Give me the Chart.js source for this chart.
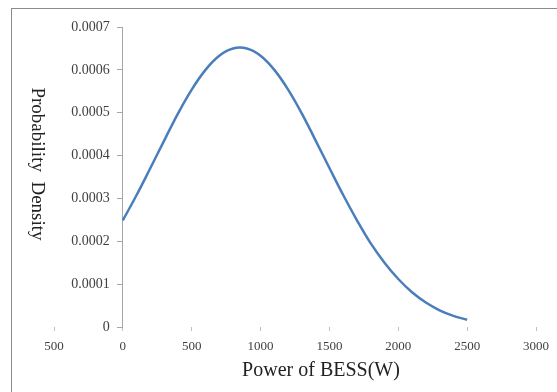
<!DOCTYPE html>
<html>
<head>
<meta charset="utf-8">
<script src="https://cdn.jsdelivr.net/npm/chart.js@4/dist/chart.umd.min.js"></script>
<style>
  html, body { margin: 0; padding: 0; background: #fff; }
  #wrap { position: relative; width: 557px; height: 392px; overflow: hidden; }
  #frame {
    position: absolute; left: 11px; top: 8px; width: 600px; height: 450px;
    border-left: 1px solid #8c8c8c; border-top: 1px solid #8c8c8c;
  }
  canvas { position: absolute; left: 0; top: 0; }
</style>
</head>
<body>
<div id="wrap">
  <div id="frame"></div>
  <canvas id="chart" width="557" height="392"></canvas>
</div>
<script>
// values
const powerW = [0, 100, 200, 300, 400, 500, 600, 700, 800, 900, 1000, 1100, 1200,
  1300, 1400, 1500, 1600, 1700, 1800, 1900, 2000, 2100, 2200, 2300, 2400, 2500];
const density = [0.000249, 0.000308, 0.000371, 0.000435, 0.000498, 0.000554, 0.000600,
  0.000633, 0.000650, 0.000650, 0.000633, 0.000600, 0.000554, 0.000498, 0.000435,
  0.000371, 0.000308, 0.000249, 0.000195, 0.000150, 0.000112, 0.000081, 0.000057,
  0.000039, 0.000026, 0.000017];

const xTicks = [-500, 0, 500, 1000, 1500, 2000, 2500, 3000];
const xTickLabels = ['500', '0', '500', '1000', '1500', '2000', '2500', '3000'];
const yTicks = [0, 0.0001, 0.0002, 0.0003, 0.0004, 0.0005, 0.0006, 0.0007];
const yTickLabels = ['0', '0.0001', '0.0002', '0.0003', '0.0004', '0.0005', '0.0006', '0.0007'];

const xTitle = 'Power of BESS(W)';
const yTitle = 'Probability  Density';

const SERIF = '"Liberation Serif", "Times New Roman", serif';

// y labels sit left of the axis drawn at x = 0; titles placed like the original
const textPlugin = {
  id: 'texts',
  afterDraw(chart) {
    const { ctx, scales: { x, y } } = chart;
    const axisX = x.getPixelForValue(0);
    ctx.save();
    ctx.font = '14px ' + SERIF;
    ctx.fillStyle = '#404040';
    ctx.textAlign = 'right';
    ctx.textBaseline = 'middle';
    yTicks.forEach((v, i) => ctx.fillText(yTickLabels[i], axisX - 13, y.getPixelForValue(v)));

    ctx.font = '20px ' + SERIF;
    ctx.fillStyle = '#222';
    ctx.textAlign = 'center';
    ctx.fillText(xTitle, 321, 371);

    ctx.translate(37, 164);
    ctx.rotate(Math.PI / 2);
    ctx.font = '19px ' + SERIF;
    ctx.fillText(yTitle, 0, 0);
    ctx.restore();
  }
};

new Chart(document.getElementById('chart').getContext('2d'), {
  type: 'line',
  data: {
    datasets: [{
      data: powerW.map((x, i) => ({ x, y: density[i] })),
      borderColor: '#4A7EBB',
      borderWidth: 2.5,
      pointRadius: 0,
      fill: false,
      tension: 0.4,
    }],
  },
  options: {
    responsive: false,
    animation: false,
    layout: { padding: { left: 54, right: 18, top: 27, bottom: 0 } },
    plugins: { legend: { display: false }, tooltip: { enabled: false } },
    scales: {
      x: {
        type: 'linear',
        min: -500, max: 3000,
        afterBuildTicks: s => { s.ticks = xTicks.map(v => ({ value: v })); },
        afterFit: s => { s.height = 65; },
        border: { display: false },
        grid: { drawOnChartArea: false, drawTicks: true, tickLength: 4, color: '#c0c0c0' },
        ticks: {
          padding: 8,
          maxRotation: 0,
          autoSkip: false,
          color: '#404040',
          font: { family: SERIF, size: 13 },
          callback: (v) => xTickLabels[xTicks.indexOf(v)],
        },
      },
      y: {
        position: { x: 0 },
        min: 0, max: 0.0007,
        afterBuildTicks: s => { s.ticks = yTicks.map(v => ({ value: v })); },
        border: { display: true, color: '#a6a6a6', width: 1 },
        grid: { drawOnChartArea: false, drawTicks: true, tickLength: 5, color: '#a6a6a6' },
        ticks: { display: false },
      },
    },
  },
  plugins: [textPlugin],
});
</script>
</body>
</html>
